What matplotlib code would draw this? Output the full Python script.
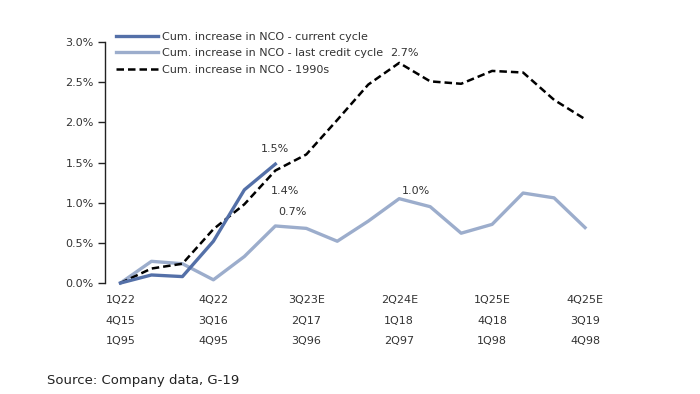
import matplotlib
matplotlib.use("Agg")
import matplotlib.pyplot as plt
from matplotlib.ticker import FuncFormatter

# tick labels (three comparison cycles)
row_current = ["1Q22", "4Q22", "3Q23E", "2Q24E", "1Q25E", "4Q25E"]
row_last = ["4Q15", "3Q16", "2Q17", "1Q18", "4Q18", "3Q19"]
row_1990s = ["1Q95", "4Q95", "3Q96", "2Q97", "1Q98", "4Q98"]

# cumulative increase in NCO (%), one value per quarter
current_cycle = [0.00, 0.10, 0.08, 0.52, 1.16, 1.48]
last_cycle = [0.00, 0.27, 0.24, 0.04, 0.33, 0.71, 0.68, 0.52, 0.77, 1.05,
              0.95, 0.62, 0.73, 1.12, 1.06, 0.69]
cycle_1990s = [0.00, 0.18, 0.24, 0.67, 0.98, 1.40, 1.60, 2.03, 2.47, 2.74,
               2.51, 2.48, 2.64, 2.62, 2.28, 2.04]

txt = "#333333"
dark_blue = "#5470A8"
light_blue = "#9CADCC"

fig = plt.figure(figsize=(7, 3.94), dpi=100)
ax = fig.add_axes([0.15, 0.2817, 0.73, 0.6117])

ax.plot(range(len(last_cycle)), last_cycle, color=light_blue, lw=2.4,
        label="Cum. increase in NCO - last credit cycle", zorder=2, clip_on=False)
ax.plot(range(len(cycle_1990s)), cycle_1990s, color="black", lw=1.8, ls=(0, (3, 1.6)),
        label="Cum. increase in NCO - 1990s", zorder=3, clip_on=False)
ax.plot(range(len(current_cycle)), current_cycle, color=dark_blue, lw=2.4,
        label="Cum. increase in NCO - current cycle", zorder=4, clip_on=False)

ax.set_xlim(-0.5, 16)
ax.set_ylim(0, 3.0)
ax.set_yticks([0, 0.5, 1.0, 1.5, 2.0, 2.5, 3.0])
ax.yaxis.set_major_formatter(FuncFormatter(lambda v, p: f"{v:.1f}%"))

tick_pos = list(range(0, 16, 3))
ax.set_xticks(tick_pos)
ax.set_xticklabels([f"{a}\n{b}\n{c}" for a, b, c in zip(row_current, row_last, row_1990s)],
                   linespacing=2.35, va="top")

for s in ["top", "right", "bottom"]:
    ax.spines[s].set_visible(False)
ax.spines["left"].set_color("#222222")
ax.spines["left"].set_linewidth(1.0)
ax.tick_params(axis="y", length=5, width=1.0, colors="#222222", labelsize=8, labelcolor=txt, pad=3)
ax.tick_params(axis="x", length=0, labelsize=8, labelcolor=txt, pad=8.5)

# data labels
ax.annotate("1.5%", (5, current_cycle[5]), xytext=(0, 9), textcoords="offset points",
            ha="center", fontsize=8, color=txt)
ax.annotate("1.4%", (5, cycle_1990s[5]), xytext=(7, -17), textcoords="offset points",
            ha="center", fontsize=8, color=txt)
ax.annotate("0.7%", (5, last_cycle[5]), xytext=(12, 8), textcoords="offset points",
            ha="center", fontsize=8, color=txt)
ax.annotate("2.7%", (9, cycle_1990s[9]), xytext=(4, 5), textcoords="offset points",
            ha="center", fontsize=8, color=txt)
ax.annotate("1.0%", (9, last_cycle[9]), xytext=(12, 3), textcoords="offset points",
            ha="center", fontsize=8, color=txt)

handles, labels = ax.get_legend_handles_labels()
order = [2, 0, 1]
leg = ax.legend([handles[i] for i in order], [labels[i] for i in order],
                loc="upper left", bbox_to_anchor=(0.012, 1.062), frameon=False,
                fontsize=8, handlelength=3.8, handletextpad=0.4, labelspacing=0.6,
                borderaxespad=0)
for t in leg.get_texts():
    t.set_color(txt)

fig.text(0.067, 0.033, "Source: Company data, G-19", fontsize=9.5, color="#222222",
         va="center")

fig.savefig("out.png", dpi=100)
